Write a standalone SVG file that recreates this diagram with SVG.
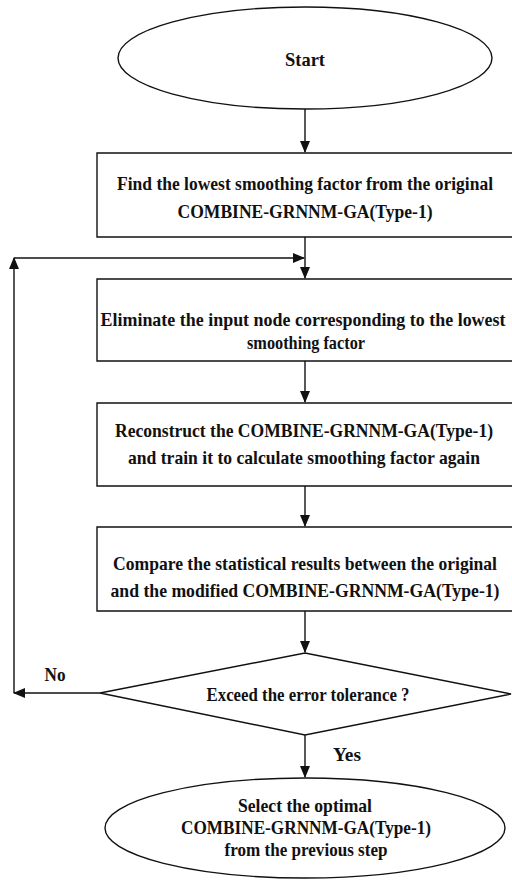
<svg xmlns="http://www.w3.org/2000/svg" width="512" height="881" viewBox="0 0 512 881">
<style>
.s{fill:#fff;stroke:#111;stroke-width:1.4}
.c{fill:none;stroke:#111;stroke-width:1.4}
text{font-family:"Liberation Serif","Times New Roman",serif;font-weight:bold;font-size:16.5px;fill:#111;text-anchor:middle}
</style>
<defs>
<marker id="ah" markerWidth="12" markerHeight="10" refX="11" refY="5" orient="auto" markerUnits="userSpaceOnUse">
<path d="M0,0 L12,5 L0,10 Z" fill="#111"/>
</marker>
</defs>
<rect width="512" height="881" fill="#fff"/>
<g id="connectors">
<line class="c" x1="305" y1="109" x2="305" y2="152" marker-end="url(#ah)"/>
<line class="c" x1="305" y1="237" x2="305" y2="278" marker-end="url(#ah)"/>
<line class="c" x1="305" y1="361" x2="305" y2="402" marker-end="url(#ah)"/>
<line class="c" x1="305" y1="486" x2="305" y2="526" marker-end="url(#ah)"/>
<line class="c" x1="305" y1="611" x2="305" y2="652" marker-end="url(#ah)"/>
<line class="c" x1="305" y1="735" x2="305" y2="777" marker-end="url(#ah)"/>
<line class="c" x1="100" y1="693" x2="14" y2="693" marker-end="url(#ah)"/>
<line class="c" x1="14" y1="693" x2="14" y2="258" marker-end="url(#ah)"/>
<line class="c" x1="14" y1="258" x2="304" y2="258" marker-end="url(#ah)"/>
<text transform="translate(55,681) scale(1,1.15)" textLength="21" lengthAdjust="spacingAndGlyphs">No</text>
<text transform="translate(347,761) scale(1,1.15)" textLength="28" lengthAdjust="spacingAndGlyphs">Yes</text>
</g>
<g id="start">
<ellipse class="s" cx="305" cy="58" rx="187" ry="51"/>
<text transform="translate(305,66) scale(1,1.15)" textLength="40" lengthAdjust="spacingAndGlyphs">Start</text>
</g>
<g id="find">
<path class="s" d="M517,153 H97 V237 H517"/>
<text transform="translate(305,190) scale(1,1.15)" textLength="376" lengthAdjust="spacingAndGlyphs">Find the lowest smoothing factor from the original</text>
<text transform="translate(305,218) scale(1,1.15)" textLength="255" lengthAdjust="spacingAndGlyphs">COMBINE-GRNNM-GA(Type-1)</text>
</g>
<g id="eliminate">
<path class="s" d="M517,279 H97 V361 H517"/>
<text transform="translate(303,326) scale(1,1.15)" textLength="405" lengthAdjust="spacingAndGlyphs">Eliminate the input node corresponding to the lowest</text>
<text transform="translate(306,349) scale(1,1.15)" textLength="118" lengthAdjust="spacingAndGlyphs">smoothing factor</text>
</g>
<g id="reconstruct">
<path class="s" d="M517,403 H97 V486 H517"/>
<text transform="translate(304,437) scale(1,1.15)" textLength="378" lengthAdjust="spacingAndGlyphs">Reconstruct the COMBINE-GRNNM-GA(Type-1)</text>
<text transform="translate(304,464) scale(1,1.15)" textLength="352" lengthAdjust="spacingAndGlyphs">and train it to calculate smoothing factor again</text>
</g>
<g id="compare">
<path class="s" d="M517,527 H97 V611 H517"/>
<text transform="translate(305,570) scale(1,1.15)" textLength="384" lengthAdjust="spacingAndGlyphs">Compare the statistical results between the original</text>
<text transform="translate(305,597) scale(1,1.15)" textLength="389" lengthAdjust="spacingAndGlyphs">and the modified COMBINE-GRNNM-GA(Type-1)</text>
</g>
<g id="decision">
<polygon class="s" points="305,653 511,694 305,735 100,693"/>
<text transform="translate(308,701) scale(1,1.15)" textLength="203" lengthAdjust="spacingAndGlyphs">Exceed the error tolerance ?</text>
</g>
<g id="end">
<ellipse class="s" cx="305" cy="828" rx="200" ry="50"/>
<text transform="translate(305,812) scale(1,1.15)" textLength="134" lengthAdjust="spacingAndGlyphs">Select the optimal</text>
<text transform="translate(306,834) scale(1,1.15)" textLength="250" lengthAdjust="spacingAndGlyphs">COMBINE-GRNNM-GA(Type-1)</text>
<text transform="translate(306,856) scale(1,1.15)" textLength="163" lengthAdjust="spacingAndGlyphs">from the previous step</text>
</g>
</svg>
